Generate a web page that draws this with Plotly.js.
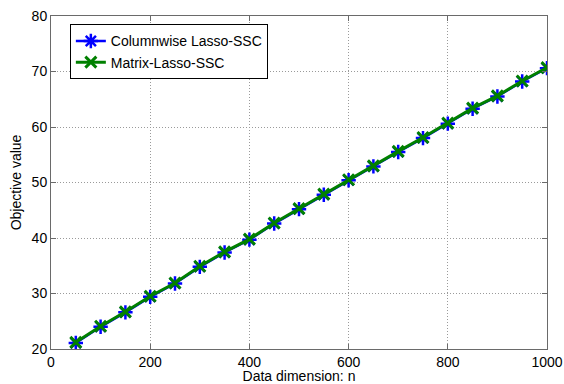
<!DOCTYPE html>
<html><head><meta charset="utf-8">
<script src="https://cdn.plot.ly/plotly-3.0.1.min.js"></script>
<style>html,body{margin:0;padding:0;background:#fff}#c{width:564px;height:384px}</style>
</head><body><div id="c"></div>
<script>
const dims = [50,100,150,200,250,300,350,400,450,500,550,600,650,700,750,800,850,900,950,1000];
const columnwise = [21.1,24.0,26.6,29.4,31.8,34.8,37.4,39.7,42.6,45.2,47.8,50.4,52.9,55.5,58.0,60.6,63.3,65.5,68.2,70.6];
const matrixLasso = [21.2,24.1,26.7,29.5,31.9,34.9,37.5,39.8,42.7,45.3,47.9,50.5,53.0,55.6,58.1,60.7,63.4,65.6,68.3,70.7];
const names = ['Columnwise Lasso-SSC','Matrix-Lasso-SSC'];
const xTicks = [0,200,400,600,800,1000];
const yTicks = [20,30,40,50,60,70,80];

const FONT = 'Liberation Sans, Arial, sans-serif';

const traces = [
  {x: dims, y: columnwise, name: names[0], mode: 'lines+markers', type: 'scatter',
   line: {color: '#0000ff', width: 2.5},
   marker: {symbol: 'asterisk-open', size: 12, color: '#0000ff', line: {color: '#0000ff', width: 2.5}}},
  {x: dims, y: matrixLasso, name: names[1], mode: 'lines+markers', type: 'scatter',
   line: {color: '#008000', width: 3},
   marker: {symbol: 'x-thin-open', size: 11, color: '#008000', line: {color: '#008000', width: 3}}}
];

const axisCommon = {
  showline: true, mirror: 'ticks', linecolor: '#6a6a6a', linewidth: 1,
  ticks: 'inside', ticklen: 5, tickcolor: '#6a6a6a',
  showgrid: true, gridcolor: '#9a9a9a', griddash: '1px,2px', gridwidth: 1,
  zeroline: false, tickfont: {family: FONT, size: 14, color: '#000'}
};

const layout = {
  width: 564, height: 384,
  margin: {l: 51, r: 17, t: 16, b: 35},
  paper_bgcolor: '#fff', plot_bgcolor: '#fff',
  showlegend: true,
  xaxis: Object.assign({}, axisCommon, {range: [0, 1000], tickvals: xTicks, ticklabelstandoff: 0,
    title: {text: 'Data dimension: n', standoff: 0, font: {family: FONT, size: 14, color: '#000'}}}),
  yaxis: Object.assign({}, axisCommon, {range: [20, 80], tickvals: yTicks, ticklabelstandoff: 0,
    title: {text: 'Objective value', standoff: 6, font: {family: FONT, size: 14, color: '#000'}}}),
  legend: {x: 0.038, y: 0.975, xanchor: 'left', yanchor: 'top',
    bgcolor: '#fff', bordercolor: '#000', borderwidth: 1,
    font: {family: FONT, size: 14, color: '#000'},
    tracegroupgap: 0, itemwidth: 30}
};

Plotly.newPlot('c', traces, layout, {displayModeBar: false, staticPlot: true});
</script>
</body></html>
